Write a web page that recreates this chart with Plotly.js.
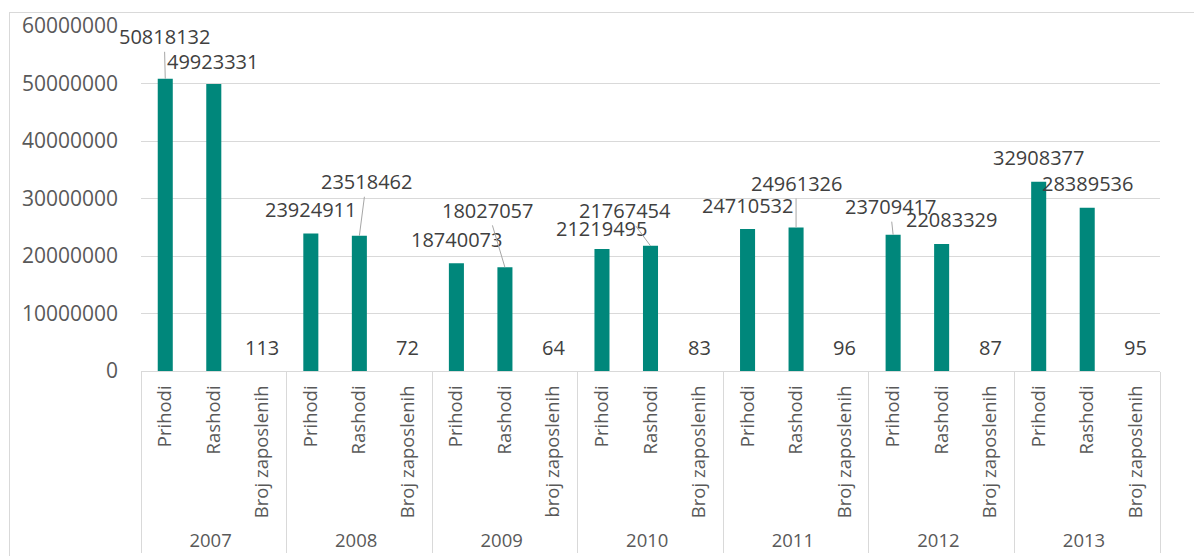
<!DOCTYPE html>
<html><head><meta charset="utf-8">
<script src="https://cdn.plot.ly/plotly-3.0.1.min.js"></script>
<style>
html,body{margin:0;padding:0;background:#fff;overflow:hidden;}
#frame{position:absolute;left:9px;top:12px;width:1300px;height:700px;border:1px solid #d9d9d9;box-sizing:border-box;}
#chart{position:absolute;left:0;top:0;width:1194px;height:556px;}
</style></head><body>
<div id="frame"></div>
<div id="chart"></div>
<script>
const years = ['2007','2008','2009','2010','2011','2012','2013'];
const prihodiLabel = 'Prihodi';
const rashodiLabel = 'Rashodi';
const brojLabels = ['Broj zaposlenih','Broj zaposlenih','broj zaposlenih','Broj zaposlenih','Broj zaposlenih','Broj zaposlenih','Broj zaposlenih'];
const prihodi = [50818132, 23924911, 18740073, 21219495, 24710532, 23709417, 32908377];
const rashodi = [49923331, 23518462, 18027057, 21767454, 24961326, 22083329, 28389536];
const brojZaposlenih = [113, 72, 64, 83, 96, 87, 95];

// label placement (pixel offsets, leader line on/off) – style only
const placePrihodi = [[-1,-42,1],[0,-24,0],[0,-24,0],[0,-20,0],[0,-23,0],[-3,-28,1],[0,-24,0]];
const placeRashodi = [[-1,-22,0],[7,-54,1],[-17,-57,1],[-26,-35,1],[0,-44,1],[10,-25,0],[0,-24,0]];
const placeBroj = [0,-24,0];

const outer = [], inner = [], vals = [], places = [];
years.forEach((y, i) => {
  outer.push(y, y, y);
  inner.push(prihodiLabel, rashodiLabel, brojLabels[i]);
  vals.push(prihodi[i], rashodi[i], brojZaposlenih[i]);
  places.push(placePrihodi[i], placeRashodi[i], placeBroj);
});

const font = 'Open Sans, Liberation Sans, sans-serif';
const annotations = vals.map((v, k) => ({
  x: k, y: v, xref: 'x', yref: 'y',
  text: String(v),
  showarrow: true, arrowhead: 0, arrowwidth: 1, standoff: 0,
  arrowcolor: places[k][2] ? '#a6a6a6' : 'rgba(0,0,0,0)',
  ax: places[k][0], ay: places[k][1],
  font: {family: font, size: 20, color: '#404040'}
}));

Plotly.newPlot('chart', [{
  type: 'bar',
  x: [outer, inner],
  y: vals,
  width: 0.31,
  marker: {color: '#00877B'},
  hoverinfo: 'none'
}], {
  width: 1194, height: 556,
  margin: {l: 141, r: 34, t: 26, b: 185},
  paper_bgcolor: 'rgba(0,0,0,0)', plot_bgcolor: 'rgba(0,0,0,0)',
  showlegend: false,
  font: {family: font, color: '#595959'},
  xaxis: {
    type: 'multicategory', tickangle: -90, automargin: false,
    range: [-0.5, vals.length - 0.5],
    tickfont: {family: font, size: 18.5, color: '#595959'},
    showline: true, linecolor: '#d9d9d9', linewidth: 1,
    showdividers: true, dividercolor: '#d9d9d9', dividerwidth: 1,
    ticks: '', showgrid: false, ticklabelstandoff: 6
  },
  yaxis: {
    range: [0, 60000000], dtick: 10000000, tick0: 0, tickformat: 'd',
    gridcolor: '#d9d9d9', zeroline: false, showline: false, automargin: false,
    tickfont: {family: font, size: 21, color: '#595959'},
    ticklabelstandoff: 22
  },
  annotations: annotations
}, {staticPlot: true});
</script>
</body></html>
